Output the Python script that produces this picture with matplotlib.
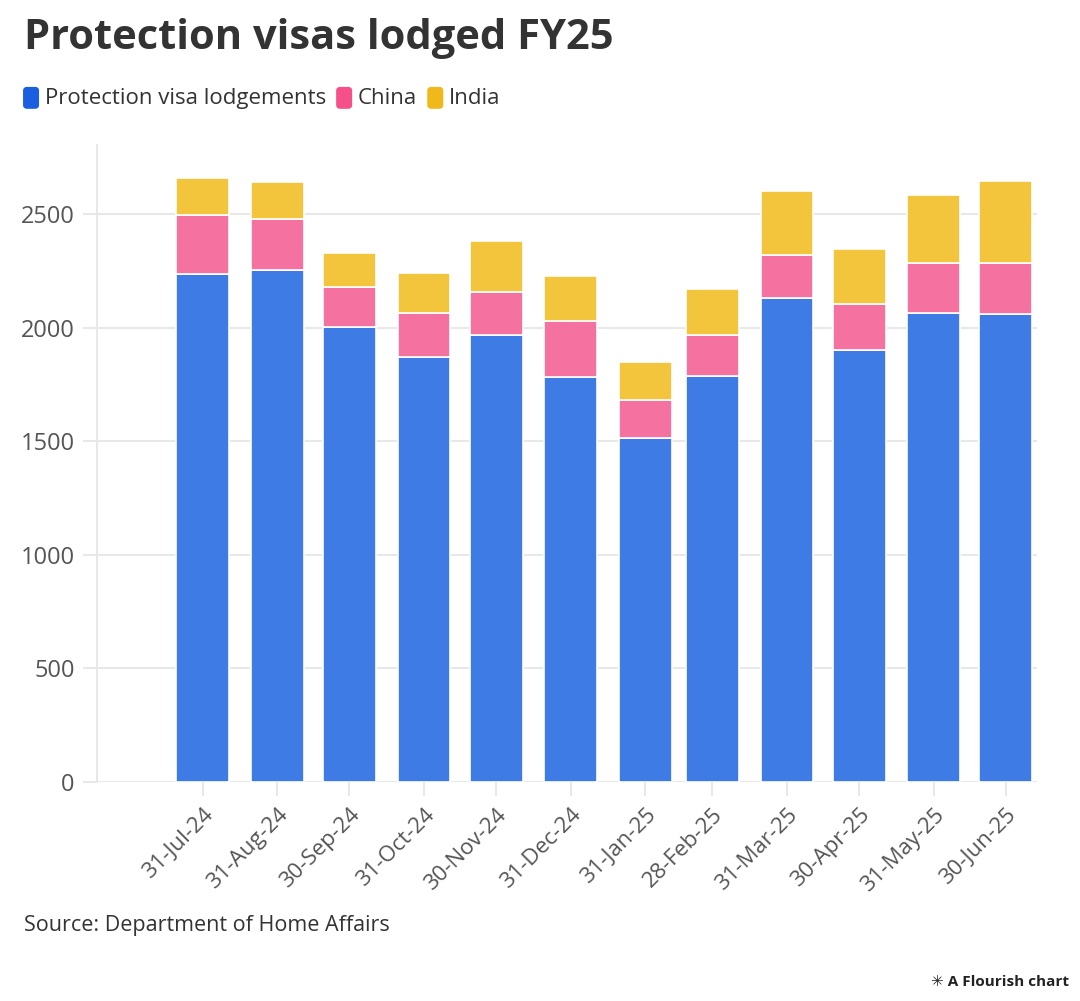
import matplotlib.pyplot as plt
import matplotlib.dates as mdates
from matplotlib.patches import FancyBboxPatch
import pandas as pd

plt.rcParams['font.family'] = ['Open Sans', 'DejaVu Sans']

dates = ['2024-07-31', '2024-08-31', '2024-09-30', '2024-10-31', '2024-11-30', '2024-12-31',
         '2025-01-31', '2025-02-28', '2025-03-31', '2025-04-30', '2025-05-31', '2025-06-30']
labels = ['31-Jul-24', '31-Aug-24', '30-Sep-24', '31-Oct-24', '30-Nov-24', '31-Dec-24',
          '31-Jan-25', '28-Feb-25', '31-Mar-25', '30-Apr-25', '31-May-25', '30-Jun-25']
protection = [2236, 2254, 2003, 1871, 1967, 1783, 1514, 1787, 2130, 1901, 2064, 2060]
china = [260, 224, 176, 193, 190, 246, 167, 180, 190, 203, 220, 224]
india = [162, 163, 149, 176, 224, 198, 168, 203, 281, 242, 300, 361]

names = ['Protection visa lodgements', 'China', 'India']
bar_colors = ['#3e7be5', '#f571a0', '#f2c53d']
key_colors = ['#1a5fe0', '#f5508a', '#f0b81a']

x = pd.to_datetime(dates)
xn = mdates.date2num(x)

fig = plt.figure(figsize=(10.8, 10.01), dpi=100)
ax = fig.add_axes([0.0898, 0.2188, 0.8704, 0.6362])

bottom = [0] * len(xn)
for vals, col in zip([protection, china, india], bar_colors):
    ax.bar(xn, vals, width=22, bottom=bottom, color=col, edgecolor='white',
           linewidth=1.2, zorder=3)
    bottom = [b + v for b, v in zip(bottom, vals)]

ax.set_xlim(mdates.date2num(pd.Timestamp('2024-06-17')),
            mdates.date2num(pd.Timestamp('2025-07-13')))
ax.set_ylim(0, 2804)
ax.set_yticks([0, 500, 1000, 1500, 2000, 2500])
ax.set_xticks(xn)
ax.set_xticklabels(labels, rotation=45, ha='right', rotation_mode='anchor')

ax.grid(axis='y', color='#e8e8e8', linewidth=1.5, zorder=0)
for s in ['top', 'right', 'bottom']:
    ax.spines[s].set_visible(False)
ax.spines['left'].set_color('#e8e8e8')
ax.spines['left'].set_linewidth(1.5)
ax.axhline(0, color='#e8e8e8', linewidth=2, zorder=1)
ax.tick_params(axis='y', length=10, color='#e8e8e8', width=1.5, labelsize=17,
               labelcolor='#555555', pad=6)
ax.tick_params(axis='x', length=10, color='#e8e8e8', width=1.5, labelsize=16,
               labelcolor='#555555', pad=6)

fig.text(0.022, 0.962, 'Protection visas lodged FY25', fontsize=30, fontweight='bold',
         color='#333333', va='center')

# legend row
lx = 0.022
for name, col in zip(names, key_colors):
    fig.patches.append(FancyBboxPatch((lx, 0.892), 0.0135, 0.0205,
                                      boxstyle='round,pad=0,rounding_size=0.003',
                                      transform=fig.transFigure, color=col))
    t = fig.text(lx + 0.0195, 0.902, name, fontsize=16, color='#333333', va='center')
    fig.canvas.draw()
    bb = t.get_window_extent()
    lx = bb.x1 / 1080 + 0.01

fig.text(0.022, 0.075, 'Source: Department of Home Affairs', fontsize=15.5, color='#333333',
         va='center')
fig.text(0.99, 0.019, '\u2733 A Flourish chart', fontsize=11, fontweight='bold',
         color='#222222', ha='right', va='center')

fig.savefig('out.png', dpi=100, facecolor='white')
